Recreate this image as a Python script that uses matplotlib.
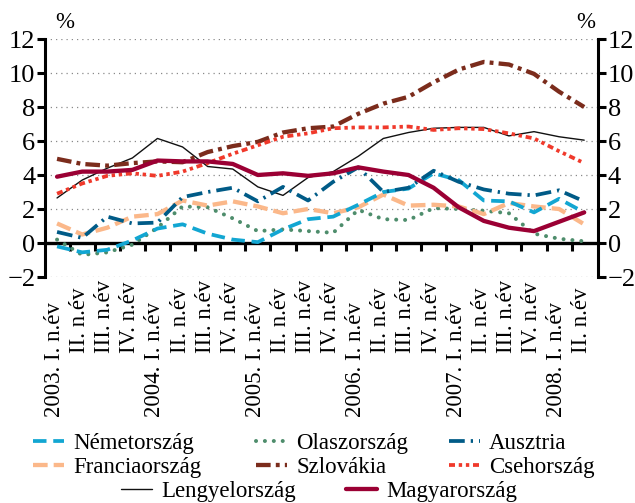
import numpy as np
import matplotlib
matplotlib.use("Agg")
import matplotlib.pyplot as plt

# quarters 2003 I .. 2008 II
years = ["2003", "2004", "2005", "2006", "2007", "2008"]
quarters = ["I.", "II.", "III.", "IV."]
n_points = 22

nemetorszag = [-0.2, -0.55, -0.4, 0.15, 0.85, 1.1, 0.55, 0.2, 0.05, 0.8, 1.4,
               1.55, 2.25, 3.0, 3.2, 4.1, 3.7, 2.5, 2.45, 1.8, 2.6, 1.8]
olaszorszag = [0.2, -0.7, -0.55, -0.1, 0.9, 2.15, 2.1, 1.45, 0.7, 0.8, 0.7,
               0.6, 1.95, 1.4, 1.35, 2.05, 2.0, 1.9, 1.75, 0.55, 0.25, 0.1]
ausztria = [0.65, 0.3, 1.55, 1.15, 1.2, 2.7, 3.0, 3.25, 2.45, 3.3, 2.5,
            3.6, 4.45, 3.0, 3.25, 4.25, 3.6, 3.15, 2.9, 2.8, 3.1, 2.45]
franciaorszag = [1.15, 0.5, 0.9, 1.55, 1.7, 2.5, 2.2, 2.45, 2.15, 1.75, 2.0,
                 1.75, 2.1, 2.85, 2.2, 2.25, 2.15, 1.7, 2.35, 2.15, 2.0, 1.1]
szlovakia = [4.95, 4.65, 4.55, 4.7, 4.8, 4.75, 5.35, 5.7, 5.95, 6.5, 6.75,
             6.85, 7.6, 8.2, 8.6, 9.45, 10.2, 10.65, 10.5, 9.95, 8.9, 8.0]
csehorszag = [2.9, 3.5, 3.95, 4.1, 3.95, 4.2, 4.7, 5.25, 5.75, 6.25, 6.45,
              6.75, 6.8, 6.8, 6.85, 6.65, 6.75, 6.7, 6.45, 6.15, 5.4, 4.7]
lengyelorszag = [2.65, 3.7, 4.4, 5.0, 6.15, 5.65, 4.5, 4.35, 3.3, 2.8, 3.85,
                 4.2, 5.1, 6.15, 6.5, 6.75, 6.8, 6.8, 6.3, 6.55, 6.25, 6.05]
magyarorszag = [3.9, 4.2, 4.2, 4.3, 4.85, 4.8, 4.8, 4.65, 4.0, 4.1, 3.95,
                4.1, 4.45, 4.2, 4.0, 3.25, 2.1, 1.3, 0.9, 0.7, 1.25, 1.8]

# tick labels: "2003. I. n.év", "II. n.év", ...
tick_labels = []
for k in range(n_points):
    y, q = divmod(k, 4)
    lab = f"{quarters[q]} n.év"
    if q == 0:
        lab = f"{years[y]}. " + lab
    tick_labels.append(lab)

plt.rcParams["font.family"] = ["Liberation Serif", "DejaVu Serif"]
plt.rcParams["axes.unicode_minus"] = True

W, H = 635, 503
fig = plt.figure(figsize=(W / 100, H / 100), dpi=100)
ax_left, ax_right, ax_top, ax_bottom = 45, 598, 39, 277
ax = fig.add_axes([ax_left / W, 1 - ax_bottom / H,
                   (ax_right - ax_left) / W, (ax_bottom - ax_top) / H])
x = np.arange(n_points)

series = [
    # name, values, color, lw, dashes, capstyle, zorder
    ("Németország", nemetorszag, "#12A6D2", 2.7, (3.6, 1.8), "butt", 4),
    ("Olaszország", olaszorszag, "#4E8D6C", 2.9, (0.01, 2.2), "round", 3),
    ("Ausztria", ausztria, "#005B87", 2.7, (4.2, 1.6, 0.6, 1.6), "butt", 5),
    ("Franciaország", franciaorszag, "#FBB88A", 3.1, (3.4, 1.4), "butt", 3),
    ("Szlovákia", szlovakia, "#7B2C1C", 3.1, (3.4, 1.2, 0.9, 1.2), "butt", 4),
    ("Csehország", csehorszag, "#F0392B", 2.7, (1.6, 1.0, 0.9, 1.0, 0.9, 1.0), "butt", 4),
    ("Lengyelország", lengyelorszag, "#111111", 1.0, None, "butt", 3),
    ("Magyarország", magyarorszag, "#9B0034", 3.1, None, "butt", 6),
]

handles = {}
for name, vals, color, lw, dashes, cap, z in series:
    line, = ax.plot(x, vals, color=color, lw=lw, zorder=z,
                    solid_capstyle="round" if dashes is None else "butt")
    if dashes is not None:
        line.set_dashes(dashes)
        line.set_dash_capstyle(cap)
    handles[name] = line

ax.set_xlim(-0.48, 21.55)
ax.set_ylim(-2, 12)
ax.set_yticks(np.arange(-2, 13, 2))
for v in [-2, 2, 4, 6, 8, 10, 12]:
    ax.axhline(v, color="#8a8a8a", lw=0.9, ls=(0, (1, 3.2)), zorder=1)

for side in ["top", "bottom"]:
    ax.spines[side].set_visible(False)
for side in ["left", "right"]:
    ax.spines[side].set_linewidth(2.2)
ax.tick_params(axis="y", left=True, right=True, labelleft=True, labelright=True,
               direction="out", length=6, width=2.2, labelsize=19, pad=1)

ax.set_xticks(x)
ax.set_xticklabels([])
ax.tick_params(axis="x", length=0)

# category labels: quarter part starts at a common line, year part hangs below
ax_h = ax_bottom - ax_top
for k, lab in enumerate(tick_labels):
    start_px = 417 if k % 4 == 0 else 353
    ax.text(x[k] - 0.1, -(start_px - ax_bottom) / ax_h, lab,
            transform=ax.get_xaxis_transform(), rotation=90,
            rotation_mode="anchor", ha="left", va="center", fontsize=16.5)

# zero line with quarter separators
sec = ax.secondary_xaxis(2 / 14)
sec.set_xticks(np.arange(0.5, 21, 1))
sec.tick_params(axis="x", direction="out", length=6, width=2.2, labelbottom=False)
sec.spines["bottom"].set_linewidth(2.4)

fig.text(55 / W, 1 - 22 / H, "%", fontsize=16.5, ha="left", va="center")
fig.text(595 / W, 1 - 22 / H, "%", fontsize=16.5, ha="right", va="center")

# legend entries: handle left edge x, row center y (pixels)
legend_slots = {
    "Németország": (33, 443), "Olaszország": (256, 443), "Ausztria": (449, 443),
    "Franciaország": (33, 467), "Szlovákia": (256, 467), "Csehország": (449, 467),
    "Lengyelország": (121, 491), "Magyarország": (346, 491),
}
for name, (px, py) in legend_slots.items():
    fig.legend([handles[name]], [name], loc="center left",
               bbox_to_anchor=(px / W, 1 - py / H), frameon=False,
               borderpad=0, borderaxespad=0, handlelength=1.35,
               handletextpad=0.4, fontsize=16.5)

fig.savefig("out.png", dpi=100)
